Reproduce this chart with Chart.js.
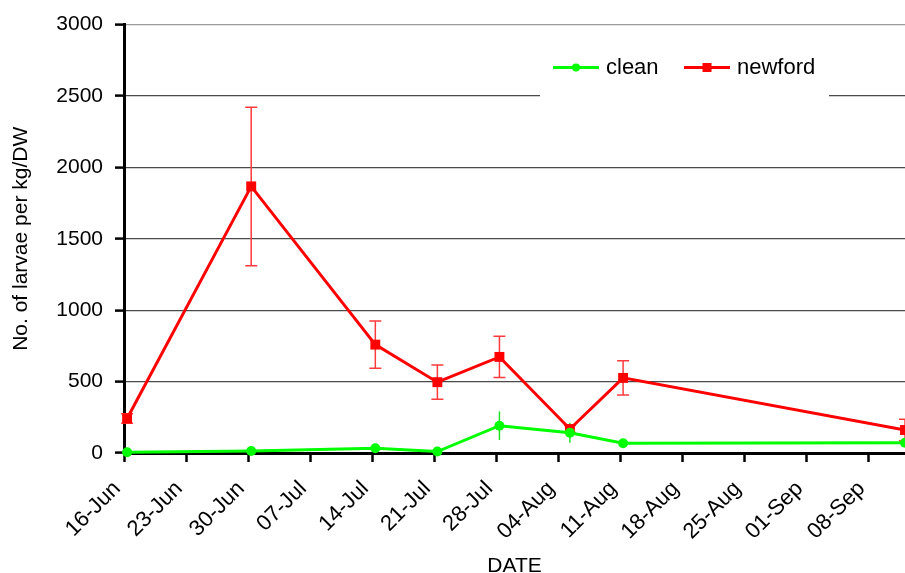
<!DOCTYPE html>
<html>
<head>
<meta charset="utf-8">
<script src="https://cdn.jsdelivr.net/npm/chart.js@4/dist/chart.umd.min.js"></script>
<style>
  html, body { margin: 0; padding: 0; background: #fff; overflow: hidden; }
  #wrap { width: 905px; height: 573px; overflow: hidden; }
</style>
</head>
<body>
<div id="wrap"><canvas id="c" width="905" height="585"></canvas></div>
<script>
// Sampling times, in days counted from 16-Jun
const sampleDays = [0.35, 14.35, 28.35, 35.35, 42.35, 50.3, 56.3, 88.1];

// Mean larvae counts and their error (± SE)
const cleanValues    = [5, 14, 33, 10, 191, 142, 68, 72];
const cleanErrors    = [0, 0, 0, 0, 100, 70, 0, 0];
const newfordValues  = [242, 1867, 759, 496, 673, 168, 526, 161];
const newfordErrors  = [33, 555, 166, 120, 145, 25, 120, 75];

// Weekly date ticks on the x axis
const tickDays   = [0, 7, 14, 21, 28, 35, 42, 49, 56, 63, 70, 77, 84];
const tickLabels = ['16-Jun', '23-Jun', '30-Jun', '07-Jul', '14-Jul', '21-Jul', '28-Jul',
                    '04-Aug', '11-Aug', '18-Aug', '25-Aug', '01-Sep', '08-Sep'];

const seriesNames = ['clean', 'newford'];
const FONT = "'Liberation Sans', Arial, Helvetica, sans-serif";

const toPoints = (vals) => vals.map((v, i) => ({ x: sampleDays[i], y: v }));

// Vertical error bars, drawn beneath the lines and markers
const errorBars = {
  id: 'errorBars',
  beforeDatasetsDraw(chart) {
    const { ctx, scales: { x, y } } = chart;
    chart.data.datasets.forEach((ds) => {
      const errs = ds.errors;
      if (!errs) return;
      ctx.save();
      ctx.strokeStyle = ds.errorColor;
      ctx.lineWidth = 1.5;
      ds.data.forEach((p, i) => {
        const e = errs[i];
        if (!e) return;
        const px = x.getPixelForValue(p.x);
        const yTop = y.getPixelForValue(p.y + e);
        const yBot = y.getPixelForValue(Math.max(p.y - e, 0));
        ctx.beginPath();
        ctx.moveTo(px, yTop); ctx.lineTo(px, yBot);
        if (ds.errorCap) {
          ctx.moveTo(px - ds.errorCap, yTop); ctx.lineTo(px + ds.errorCap, yTop);
          ctx.moveTo(px - ds.errorCap, yBot); ctx.lineTo(px + ds.errorCap, yBot);
        }
        ctx.stroke();
      });
      ctx.restore();
    });
  }
};

// Legend box in the upper right of the plot
const boxLegend = {
  id: 'boxLegend',
  beforeDatasetsDraw(chart) {
    const { ctx } = chart;
    ctx.save();
    ctx.fillStyle = '#ffffff';
    ctx.fillRect(540, 38, 289, 59);
    const yMid = 67.5;
    const items = [
      { ds: chart.data.datasets[0], x0: 553 },
      { ds: chart.data.datasets[1], x0: 684 }
    ];
    items.forEach(({ ds, x0 }) => {
      ctx.strokeStyle = ds.borderColor;
      ctx.lineWidth = 3;
      ctx.beginPath(); ctx.moveTo(x0, yMid); ctx.lineTo(x0 + 46, yMid); ctx.stroke();
      ctx.fillStyle = ds.borderColor;
      if (ds.pointStyle === 'rect') {
        ctx.fillRect(x0 + 23 - 4.5, yMid - 4.5, 9, 9);
      } else {
        ctx.beginPath(); ctx.arc(x0 + 23, yMid, 4, 0, Math.PI * 2); ctx.fill();
      }
      ctx.fillStyle = '#000';
      ctx.font = '22px ' + FONT;
      ctx.textBaseline = 'middle';
      ctx.textAlign = 'left';
      ctx.fillText(ds.label, x0 + 53, yMid);
    });
    ctx.restore();
  }
};

new Chart(document.getElementById('c'), {
  type: 'line',
  data: {
    datasets: [
      {
        label: seriesNames[0],
        data: toPoints(cleanValues),
        errors: cleanErrors,
        errorColor: '#22e022',
        errorCap: 0,
        borderColor: '#00ff00',
        backgroundColor: '#00ff00',
        borderWidth: 3,
        pointStyle: 'circle',
        pointRadius: 5,
        pointBorderWidth: 0,
        tension: 0,
        clip: false
      },
      {
        label: seriesNames[1],
        data: toPoints(newfordValues),
        errors: newfordErrors,
        errorColor: '#ff3b3b',
        errorCap: 6,
        borderColor: '#ff0000',
        backgroundColor: '#ff0000',
        borderWidth: 3,
        pointStyle: 'rect',
        pointRadius: 7,
        pointBorderWidth: 0,
        tension: 0,
        clip: false
      }
    ]
  },
  options: {
    responsive: false,
    animation: false,
    devicePixelRatio: 1,
    layout: { autoPadding: false, padding: { top: 23.5, left: 0, right: 0, bottom: 0 } },
    plugins: { legend: { display: false }, tooltip: { enabled: false } },
    scales: {
      x: {
        type: 'linear',
        min: 0,
        max: 88.1,
        afterBuildTicks(scale) { scale.ticks = tickDays.map(v => ({ value: v })); },
        afterFit(scale) { scale.height = 132; scale.paddingRight = 0; },
        border: { display: true, color: '#000', width: 3 },
        grid: { drawOnChartArea: false, drawTicks: true, tickLength: 9, tickColor: '#000', tickWidth: 2.5 },
        ticks: {
          autoSkip: false,
          maxRotation: 45,
          minRotation: 45,
          padding: 14,
          labelOffset: -7,
          color: '#000',
          font: { family: FONT, size: 22 },
          callback: (value, index) => tickLabels[index]
        },
        title: {
          display: true,
          text: 'DATE',
          color: '#000',
          font: { family: FONT, size: 21 },
          padding: { top: 0, bottom: 6 }
        }
      },
      y: {
        min: 0,
        max: 3000,
        afterFit(scale) { scale.width = 124; },
        border: { display: true, color: '#000', width: 3 },
        grid: {
          color: (c) => (c.tick && c.tick.value === 3000 ? '#9a9a9a' : '#4a4a4a'),
          lineWidth: 1.2,
          tickLength: 9,
          tickColor: '#000',
          tickWidth: 2.5
        },
        ticks: {
          stepSize: 500,
          padding: 12,
          color: '#000',
          font: { family: FONT, size: 21 },
          callback: (value) => String(value)
        },
        title: {
          display: true,
          text: 'No. of larvae per kg/DW',
          color: '#000',
          font: { family: FONT, size: 21 },
          padding: { top: 9, bottom: 0 }
        }
      }
    }
  },
  plugins: [errorBars, boxLegend]
});
</script>
</body>
</html>
